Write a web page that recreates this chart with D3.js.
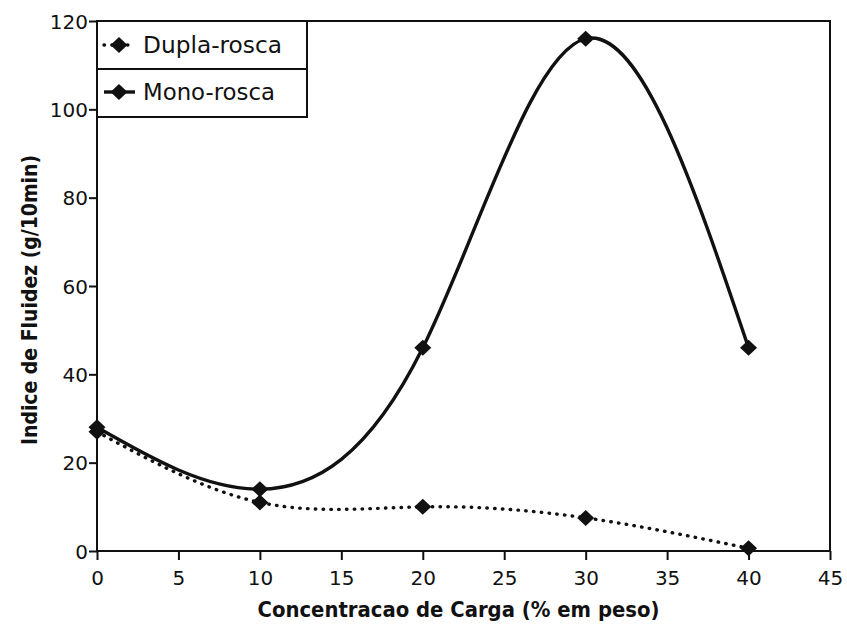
<!DOCTYPE html>
<html>
<head>
<meta charset="utf-8">
<script src="https://cdn.jsdelivr.net/npm/d3@7"></script>
<style>
  body { margin: 0; background: #fff; }
  text { font-family: "DejaVu Sans", sans-serif; fill: #111; }
</style>
</head>
<body>
<div id="chart"></div>
<script>
var concentracao = [0, 10, 20, 30, 40];
var duplaRosca = [27, 11, 10, 7.5, 0.6];
var monoRosca = [28, 14, 46, 116, 46];
var xTicks = [0, 5, 10, 15, 20, 25, 30, 35, 40, 45];
var yTicks = [0, 20, 40, 60, 80, 100, 120];
var seriesNames = ["Dupla-rosca", "Mono-rosca"];

var width = 847, height = 627;
var margin = { top: 21, right: 17, bottom: 76, left: 97 };

var svg = d3.select("#chart").append("svg")
    .attr("width", width)
    .attr("height", height);

var x = d3.scaleLinear().domain([0, 45]).range([margin.left, width - margin.right]);
var y = d3.scaleLinear().domain([0, 120]).range([height - margin.bottom, margin.top]);

// frame
svg.append("rect")
    .attr("x", x(0)).attr("y", y(120))
    .attr("width", x(45) - x(0)).attr("height", y(0) - y(120))
    .attr("fill", "none").attr("stroke", "#111").attr("stroke-width", 2);

var xAxis = svg.append("g")
    .attr("transform", "translate(0," + y(0) + ")")
    .call(d3.axisBottom(x).tickValues(xTicks).tickSize(9).tickPadding(11));
var yAxis = svg.append("g")
    .attr("transform", "translate(" + x(0) + ",0)")
    .call(d3.axisLeft(y).tickValues(yTicks).tickSize(8).tickPadding(1));

[xAxis, yAxis].forEach(function (g) {
    g.select(".domain").remove();
    g.selectAll("line").attr("stroke", "#111").attr("stroke-width", 2);
    g.selectAll("text").style("font-size", "20px").attr("fill", "#111");
});
yAxis.selectAll("text").attr("dy", "0.36em");

// axis titles (narrowed to fit the space under / beside the axes)
svg.append("text")
    .attr("x", (x(0) + x(45)) / 2 - 5)
    .attr("y", 617)
    .attr("text-anchor", "middle")
    .style("font-size", "21px")
    .style("font-weight", "bold")
    .attr("textLength", 402)
    .attr("lengthAdjust", "spacingAndGlyphs")
    .text("Concentracao de Carga (% em peso)");

svg.append("text")
    .attr("transform", "translate(37," + 300 + ") rotate(-90)")
    .attr("text-anchor", "middle")
    .style("font-size", "21px")
    .style("font-weight", "bold")
    .attr("textLength", 290)
    .attr("lengthAdjust", "spacingAndGlyphs")
    .text("Indice de Fluidez (g/10min)");

var line = d3.line()
    .x(function (d) { return x(d[0]); })
    .y(function (d) { return y(d[1]); })
    .curve(d3.curveNatural);

var dupla = concentracao.map(function (c, i) { return [c, duplaRosca[i]]; });
var mono = concentracao.map(function (c, i) { return [c, monoRosca[i]]; });

svg.append("path")
    .datum(dupla)
    .attr("d", line)
    .attr("fill", "none")
    .attr("stroke", "#111")
    .attr("stroke-width", 3.4)
    .attr("stroke-linecap", "round")
    .attr("stroke-dasharray", "0.5,7.3");

svg.append("path")
    .datum(mono)
    .attr("d", line)
    .attr("fill", "none")
    .attr("stroke", "#111")
    .attr("stroke-width", 3.4);

var diamond = "M0,-8L8.5,0L0,8L-8.5,0Z";

[dupla, mono].forEach(function (pts) {
    svg.append("g").selectAll("path")
        .data(pts)
        .enter().append("path")
        .attr("d", diamond)
        .attr("transform", function (d) { return "translate(" + x(d[0]) + "," + y(d[1]) + ")"; })
        .attr("fill", "#111");
});

// legend
var legend = svg.append("g");
legend.append("rect")
    .attr("x", x(0)).attr("y", y(120))
    .attr("width", 210).attr("height", 96)
    .attr("fill", "#fff").attr("stroke", "#111").attr("stroke-width", 2);
legend.append("line")
    .attr("x1", x(0)).attr("x2", x(0) + 210)
    .attr("y1", y(120) + 48).attr("y2", y(120) + 48)
    .attr("stroke", "#111").attr("stroke-width", 2);

seriesNames.forEach(function (name, i) {
    var cy = y(120) + 24 + i * 47;
    legend.append("line")
        .attr("x1", 104).attr("x2", 135)
        .attr("y1", cy).attr("y2", cy)
        .attr("stroke", "#111").attr("stroke-width", 3.4)
        .attr("stroke-linecap", i === 0 ? "round" : "butt")
        .attr("stroke-dasharray", i === 0 ? "0.5,7.3" : null);
    legend.append("path")
        .attr("d", diamond)
        .attr("transform", "translate(119," + cy + ")")
        .attr("fill", "#111");
    legend.append("text")
        .attr("x", 143).attr("y", cy)
        .attr("dy", "0.36em")
        .style("font-size", "23px")
        .attr("textLength", i === 0 ? 139 : 132)
        .attr("lengthAdjust", "spacingAndGlyphs")
        .text(name);
});
</script>
</body>
</html>
